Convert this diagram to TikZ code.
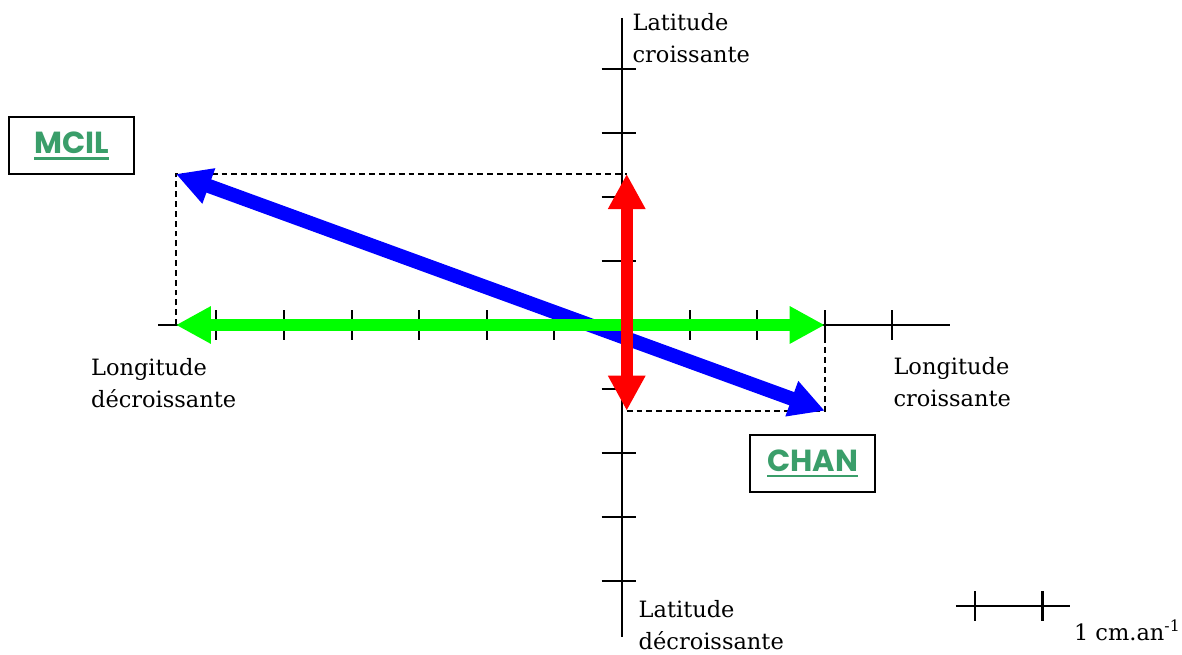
\documentclass[tikz,border=0pt]{standalone}
\usepackage{fontspec}
\setmainfont{DejaVu Serif}
\newfontfamily\tagfont{Poppins}
\usepackage{tikz}
\usetikzlibrary{arrows.meta, positioning}
\usepackage{xcolor}
\definecolor{taggreen}{RGB}{58,158,106}
\newcommand{\ulabel}[1]{\setbox0=\hbox{#1}\vtop{\copy0\kern1.5pt\hrule height 1pt width \wd0}}

\begin{document}
\begin{tikzpicture}[x=1.014cm, y=0.96cm,
  axis/.style={line width=0.9pt},
  tick/.style={line width=0.9pt},
  guide/.style={line width=1pt, dash pattern=on 2.5pt off 1.7pt},
  vec/.style={line width=5pt, {Triangle[length=15pt,width=15pt]}-{Triangle[length=15pt,width=15pt]}},
  axlabel/.style={align=left, inner sep=0pt, font=\fontsize{9.6}{13.6}\selectfont},
  tagbox/.style={draw, line width=0.8pt, minimum width=1.875cm, minimum height=0.855cm,
    text=taggreen, font=\tagfont\bfseries\fontsize{13}{15}\selectfont}]
  \useasboundingbox (-9.33cm,-4.95cm) rectangle (8.4cm,4.875cm);

  % axes
  \coordinate (O) at (0,0);
  \coordinate (west) at (-6.86,0);
  \coordinate (east) at (4.85,0);
  \coordinate (north) at (0,4.8);
  \coordinate (south) at (0,-4.875);
  \draw[axis] (west) -- (east);
  \draw[axis] (north) -- (south);
  \foreach \i in {-6,...,-1,1,2,3,4}
    \draw[tick] (\i,-0.23) -- (\i,0.23);
  \foreach \j in {-4,...,-1,1,2,3,4}
    \draw[tick] (-0.3,\j) -- (0.2,\j);

  % velocity components
  \coordinate (mcil) at (-6.6,2.36);
  \coordinate (chan) at (3,-1.34);
  \coordinate (lonmin) at (-6.6,0);
  \coordinate (lonmax) at (3,0);
  \coordinate (latmax) at (0.07,2.36);
  \coordinate (latmin) at (0.07,-1.34);
  \draw[guide] (lonmin) -- (mcil) -- (latmax);
  \draw[guide] (latmin) -- (chan) -- (lonmax);
  \draw[vec, blue, line width=6pt] (mcil) -- (chan);
  \draw[vec, green] (lonmin) -- (lonmax);
  \draw[vec, red] (latmin) -- (latmax);

  % labels
  \node[axlabel, anchor=north west] (latup) at (0.15,4.88) {Latitude\\croissante};
  \node[axlabel, anchor=north west] (latdown) at (0.24,-4.3) {Latitude\\décroissante};
  \node[axlabel, anchor=north west] (lonleft) at (-7.86,-0.52) {Longitude\\décroissante};
  \node[axlabel, anchor=north west] (lonright) at (4.01,-0.5) {Longitude\\croissante};

  % stations
  \node[tagbox] (mcilbox) at (-8.14,2.80) {\ulabel{MCIL}};
  \node[tagbox] (chanbox) at (2.82,-2.16) {\ulabel{CHAN}};

  % scale
  \coordinate (s0) at (4.94,-4.39);
  \coordinate (s1) at (6.63,-4.39);
  \draw[axis] (s0) -- (s1);
  \foreach \x in {5.22,6.22}
    \draw[tick] (\x,-4.16) -- (\x,-4.62);
  \node[axlabel, anchor=west] (unit) at (6.68,-4.77) {1 cm.an\textsuperscript{-1}};
\end{tikzpicture}
\end{document}
